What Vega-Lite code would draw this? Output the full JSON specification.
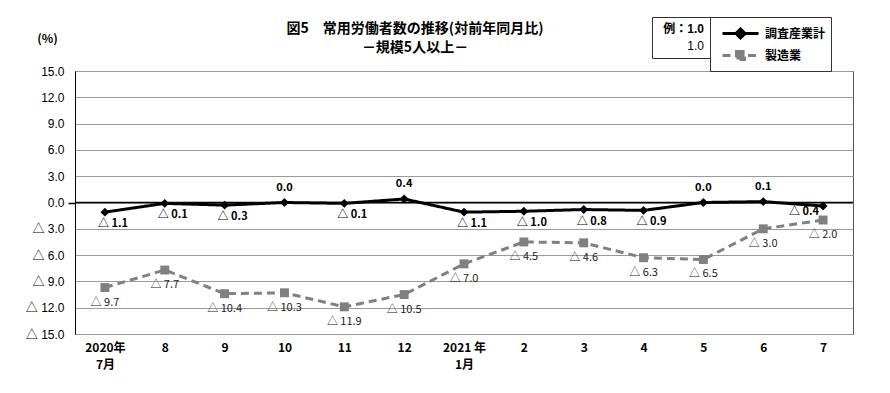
{
  "$schema": "https://vega.github.io/schema/vega-lite/v6.json",
  "autosize": "none",
  "width": 778,
  "height": 263,
  "padding": {"left": 75, "top": 71, "right": 37, "bottom": 59},
  "background": "white",
  "config": {
    "view": {"stroke": "#555555", "strokeWidth": 1},
    "font": "Noto Sans CJK JP",
    "axis": {"labelFont": "Noto Sans CJK JP"}
  },
  "title": {
    "text": ["図5　常用労働者数の推移(対前年同月比)", "－規模5人以上－"],
    "anchor": "middle",
    "dx": -49,
    "offset": -38,
    "fontSize": 14,
    "fontWeight": "bold",
    "lineHeight": 19,
    "color": "black"
  },
  "data": {
    "values": [
      {"month": "2020年|7月", "series": "調査産業計", "v": -1.1},
      {"month": "8", "series": "調査産業計", "v": -0.1},
      {"month": "9", "series": "調査産業計", "v": -0.3},
      {"month": "10", "series": "調査産業計", "v": 0.0},
      {"month": "11", "series": "調査産業計", "v": -0.1},
      {"month": "12", "series": "調査産業計", "v": 0.4},
      {"month": "2021 年|1月", "series": "調査産業計", "v": -1.1},
      {"month": "2", "series": "調査産業計", "v": -1.0},
      {"month": "3", "series": "調査産業計", "v": -0.8},
      {"month": "4", "series": "調査産業計", "v": -0.9},
      {"month": "5", "series": "調査産業計", "v": 0.0},
      {"month": "6", "series": "調査産業計", "v": 0.1},
      {"month": "7", "series": "調査産業計", "v": -0.4},
      {"month": "2020年|7月", "series": "製造業", "v": -9.7},
      {"month": "8", "series": "製造業", "v": -7.7},
      {"month": "9", "series": "製造業", "v": -10.4},
      {"month": "10", "series": "製造業", "v": -10.3},
      {"month": "11", "series": "製造業", "v": -11.9},
      {"month": "12", "series": "製造業", "v": -10.5},
      {"month": "2021 年|1月", "series": "製造業", "v": -7.0},
      {"month": "2", "series": "製造業", "v": -4.5},
      {"month": "3", "series": "製造業", "v": -4.6},
      {"month": "4", "series": "製造業", "v": -6.3},
      {"month": "5", "series": "製造業", "v": -6.5},
      {"month": "6", "series": "製造業", "v": -3.0},
      {"month": "7", "series": "製造業", "v": -2.0}
    ]
  },
  "transform": [
    {"calculate": "datum.v < 0 ? '△ ' + format(-datum.v, '.1f') : format(datum.v, '.1f')", "as": "label"}
  ],
  "encoding": {
    "x": {
      "field": "month", "type": "ordinal", "sort": null,
      "scale": {"type": "point", "padding": 0.5},
      "axis": {
        "title": null, "labelAngle": 0, "ticks": false, "domain": false,
        "labelExpr": "split(datum.value, '|')",
        "labelFontSize": 12, "labelFontWeight": "bold", "labelColor": "black",
        "labelPadding": 8, "labelLineHeight": 17
      }
    },
    "y": {
      "field": "v", "type": "quantitative",
      "scale": {"domain": [-15, 15], "nice": false, "zero": false},
      "axis": {
        "values": [-15, -12, -9, -6, -3, 0, 3, 6, 9, 12, 15],
        "labelExpr": "datum.value < 0 ? '△ ' + format(-datum.value, '.1f') : format(datum.value, '.1f')",
        "labelFont": "'Liberation Sans', 'Noto Sans CJK JP'",
        "labelFontSize": 12, "labelColor": "black", "labelPadding": 4,
        "tickColor": {"condition": {"test": "datum.value === 0", "value": "black"}, "value": "transparent"},
        "tickSize": 7, "tickWidth": 1.5,
        "domainColor": "black", "domainWidth": 1,
        "grid": true, "gridColor": "#9a9a9a", "gridWidth": 1,
        "title": "(%)", "titleAngle": 0, "titleAnchor": "end", "titleAlign": "center",
        "titleX": -28, "titleY": -26, "titleFontSize": 12, "titleFontWeight": "bold", "titleColor": "black"
      }
    }
  },
  "layer": [
    {
      "mark": {"type": "point", "opacity": 0, "filled": true},
      "data": {"values": [{"k": "例：1.0"}, {"k": "1.0"}]},
      "encoding": {
        "x": {"value": 0},
        "y": {"value": 0},
        "fill": {
          "field": "k", "type": "nominal", "sort": null,
          "scale": {"domain": ["例：1.0", "1.0"], "range": ["white", "white"]},
          "legend": {
            "title": null, "orient": "none", "legendX": 577, "legendY": -54,
            "strokeColor": "#333333", "padding": 6,
            "labelFont": "'Liberation Sans', 'Noto Sans CJK JP'",
            "labelFontSize": 12, "labelColor": "black", "rowPadding": 5,
            "symbolSize": 0, "symbolOpacity": 0, "symbolStrokeWidth": 0,
            "labelAlign": "right", "labelOffset": 34,
            "encode": {
              "labels": {"update": {
                "fontWeight": {"signal": "datum.value === '例：1.0' ? 'bold' : 'normal'"},
                "fill": {"value": "black"}
              }}
            }
          }
        }
      }
    },
    {
      "mark": {"type": "rule", "color": "black", "strokeWidth": 1.5},
      "data": {"values": [{"z": 0}]},
      "encoding": {"y": {"field": "z", "type": "quantitative"}, "x": null}
    },
    {
      "mark": {"type": "line", "strokeWidth": 3},
      "encoding": {
        "color": {
          "field": "series", "type": "nominal",
          "scale": {"domain": ["調査産業計", "製造業"], "range": ["black", "#808080"]},
          "legend": {
            "title": null, "orient": "none", "legendX": 635, "legendY": -54,
            "strokeColor": "#333333", "padding": 5, "labelFontSize": 12, "labelFontWeight": "bold",
            "labelColor": "black", "symbolSize": 400, "rowPadding": 0, "symbolStrokeWidth": 3,
            "symbolOffset": 14, "labelOffset": 13,
            "encode": {
              "symbols": {
                "update": {
                  "shape": {"signal": "datum.value === '調査産業計' ? 'M-1.8,0H1.8M0,-0.45L0.45,0L0,0.45L-0.45,0Z' : 'M-1.8,0H-0.75M0.75,0H1.8M-0.4,-0.4H0.4V0.4H-0.4Z'"},
                  "fill": {"signal": "datum.value === '調査産業計' ? 'black' : '#808080'"},
                  "stroke": {"signal": "datum.value === '調査産業計' ? 'black' : '#808080'"},
                  "strokeDash": {"value": [1, 0]},
                  "strokeWidth": {"value": 3},
                  "opacity": {"value": 1}
                }
              }
            }
          }
        },
        "strokeDash": {
          "field": "series", "type": "nominal",
          "scale": {"domain": ["調査産業計", "製造業"], "range": [[1, 0], [8, 5]]},
          "legend": null
        }
      }
    },
    {
      "transform": [{"filter": "datum.series === '調査産業計'"}],
      "mark": {"type": "point", "shape": "diamond", "filled": true, "size": 80, "opacity": 1, "color": "black"}
    },
    {
      "transform": [{"filter": "datum.series === '製造業'"}],
      "mark": {"type": "point", "shape": "square", "filled": true, "size": 80, "opacity": 1, "color": "#808080"}
    },
    {
      "transform": [{"filter": "datum.series === '調査産業計' && datum.v < 0 && datum.month !== '7'"}],
      "mark": {"type": "text", "dx": 8, "dy": 12, "fontSize": 11, "fontWeight": "bold", "font": "'Liberation Sans Narrow', 'Noto Sans CJK JP'", "color": "black"},
      "encoding": {"text": {"field": "label"}}
    },
    {
      "transform": [{"filter": "datum.series === '調査産業計' && datum.v >= 0"}],
      "mark": {"type": "text", "dy": -15, "fontSize": 11, "fontWeight": "bold", "font": "'Liberation Sans Narrow', 'Noto Sans CJK JP'", "color": "black"},
      "encoding": {"text": {"field": "label"}}
    },
    {
      "transform": [{"filter": "datum.series === '調査産業計' && datum.month === '7'"}],
      "mark": {"type": "text", "dx": -19, "dy": 6, "fontSize": 11, "fontWeight": "bold", "font": "'Liberation Sans Narrow', 'Noto Sans CJK JP'", "color": "black"},
      "encoding": {"text": {"field": "label"}}
    },
    {
      "transform": [{"filter": "datum.series === '製造業'"}],
      "mark": {"type": "text", "dy": 15, "fontSize": 11, "font": "'Liberation Sans Narrow', 'Noto Sans CJK JP'", "color": "#222222"},
      "encoding": {"text": {"field": "label"}}
    }
  ]
}
